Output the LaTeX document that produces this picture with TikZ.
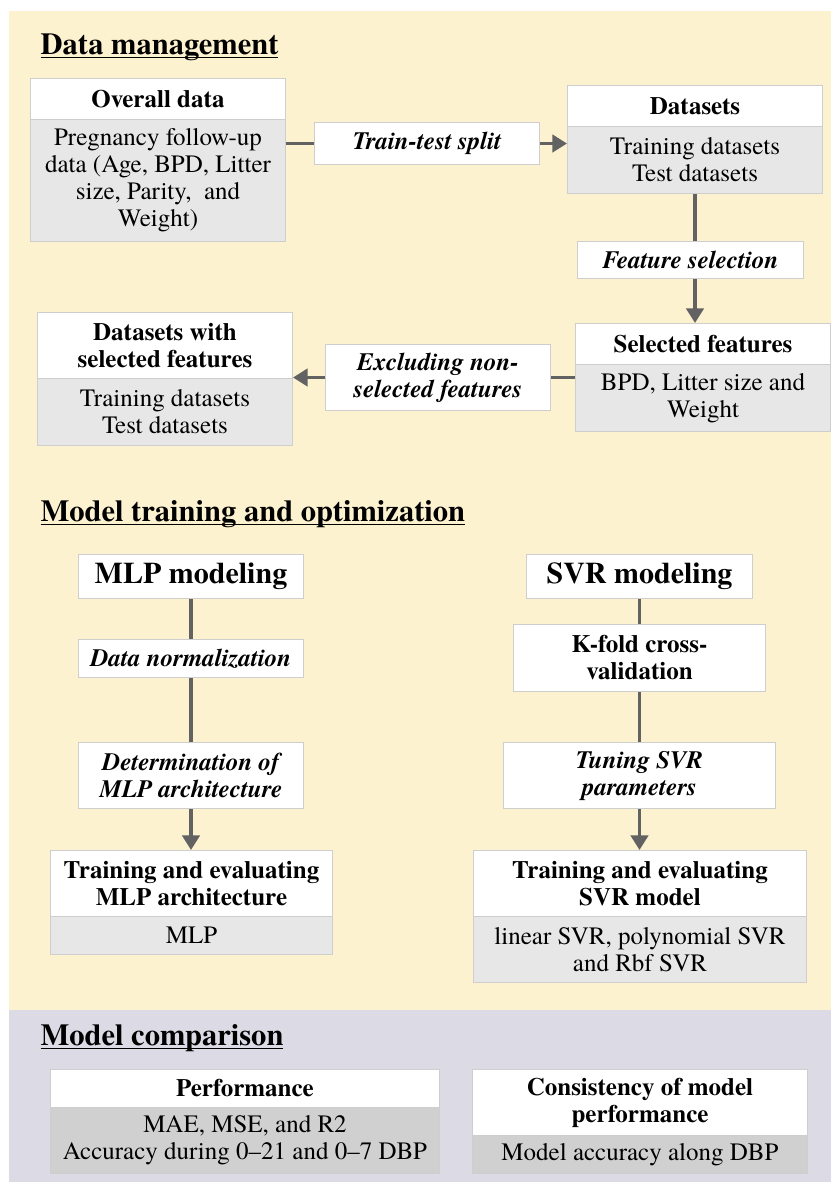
\documentclass[tikz,border=0pt]{standalone}
\usepackage{fontspec}
\setmainfont{TeX Gyre Termes}
\usetikzlibrary{arrows.meta}
\tikzset{every picture/.style={line width=0.75pt}}

\definecolor{panelyellow}{RGB}{252,242,208}
\definecolor{panelgray}{RGB}{220,218,229}
\definecolor{boxgray}{RGB}{231,231,231}
\definecolor{boxdark}{RGB}{208,208,208}
\definecolor{boxline}{RGB}{206,206,206}
\definecolor{flowgray}{RGB}{98,98,98}

\newcommand{\bodyfont}{\fontsize{18.75}{20.25}\selectfont}
\newcommand{\titlefont}{\fontsize{22.9}{27}\selectfont\bfseries}
\newcommand{\ulhead}[1]{\setbox0\hbox{#1}\rlap{\rule[-3pt]{\wd0}{1.1pt}}\box0}

\tikzset{
  sectitle/.style={anchor=base west, inner sep=0pt, font=\titlefont},
  hdr/.style={draw=boxline, fill=white, anchor=north west, inner sep=0pt, align=center, font=\bodyfont\bfseries},
  bdy/.style={draw=boxline, fill=boxgray, anchor=north west, inner sep=0pt, align=center, font=\bodyfont},
  bdydark/.style={bdy, fill=boxdark},
  stepbox/.style={hdr, font=\bodyfont\bfseries\itshape},
  bigbox/.style={hdr, font=\fontsize{22.5}{27}\selectfont\bfseries},
  flow/.style={draw=flowgray, line width=2.6pt},
  flowarrow/.style={flow, -{Triangle[width=13pt,length=11pt]}}
}

\begin{document}
\begin{tikzpicture}[x=0.75pt,y=0.75pt,yscale=-1,xscale=1]
\useasboundingbox (0,0) rectangle (831,1182);

%Shape: Rectangle [panels]
\fill [panelyellow] (9,11) rectangle (831,1010);
\fill [panelgray] (9,1010) rectangle (831,1182);

% Text Node
\node (tdata) [sectitle] at (40,54) {\ulhead{Data management}};

%Shape: Box [overall data]
\node (ovhead) [hdr, minimum width=191.25pt, minimum height=30.75pt] at (30,78) {Overall data};
\node (ovbody) [bdy, minimum width=191.25pt, minimum height=91.5pt] at (30,119) {Pregnancy follow-up\\data (Age, BPD, Litter\\size, Parity,~ and\\Weight)};
%Shape: Box [train-test split]
\node (split) [stepbox, minimum width=168.75pt, minimum height=31.5pt] at (314,122) {Train-test split};
%Shape: Box [datasets]
\node (dshead) [hdr, minimum width=191.25pt, minimum height=30.75pt] at (567,85) {Datasets};
\node (dsbody) [bdy, minimum width=191.25pt, minimum height=50.25pt] at (567,126) {Training datasets\\Test datasets};
%Shape: Box [feature selection]
\node (featsel) [stepbox, minimum width=169.5pt, minimum height=27.75pt] at (577,241) {Feature selection};
%Shape: Box [selected features]
\node (selhead) [hdr, minimum width=191.25pt, minimum height=30.75pt] at (575,323) {Selected features};
\node (selbody) [bdy, minimum width=191.25pt, minimum height=50.25pt] at (575,364) {BPD, Litter size and\\Weight};
%Shape: Box [excluding]
\node (exclude) [stepbox, minimum width=168.75pt, minimum height=49.5pt] at (325,344) {Excluding non-\\selected features};
%Shape: Box [datasets with selected features]
\node (wshead) [hdr, minimum width=191.25pt, minimum height=49.5pt] at (37,312) {Datasets with\\selected features};
\node (wsbody) [bdy, minimum width=191.25pt, minimum height=50.25pt] at (37,378) {Training datasets\\Test datasets};

%Straight Lines [data management]
\draw [flow] (ovbody.east |- split.west) -- (split.west);
\draw [flowarrow] (split.east) -- (split.east -| dsbody.west);
\draw [flow] (dsbody.south) -- (dsbody.south |- featsel.north);
\draw [flowarrow] (dsbody.south |- featsel.south) -- (dsbody.south |- selhead.north);
\draw [flow] (selbody.west |- exclude.east) -- (exclude.east);
\draw [flowarrow] (exclude.west) -- (exclude.west -| wsbody.east);

% Text Node
\node (tmodel) [sectitle] at (40,521) {\ulhead{Model training and optimization}};

%Shape: Box [MLP branch]
\node (mlp) [bigbox, minimum width=168.75pt, minimum height=33pt] at (78,554) {MLP modeling};
\node (norm) [stepbox, minimum width=168.75pt, minimum height=28.5pt] at (78,639) {Data normalization};
\node (archi) [stepbox, minimum width=168.75pt, minimum height=49.5pt] at (78,742) {Determination of\\MLP architecture};
\node (mlphead) [hdr, minimum width=211.5pt, minimum height=49.5pt] at (50,850) {Training and evaluating\\MLP architecture};
\node (mlpbody) [bdy, minimum width=211.5pt, minimum height=28.5pt] at (50,916) {MLP};

%Shape: Box [SVR branch]
\node (svr) [bigbox, minimum width=169.5pt, minimum height=33pt] at (526,554) {SVR modeling};
\node (kfold) [hdr, minimum width=189pt, minimum height=50.25pt] at (513,624) {K-fold cross-\\validation};
\node (tuning) [stepbox, minimum width=204pt, minimum height=49.5pt] at (503,742) {Tuning SVR\\parameters};
\node (svrhead) [hdr, minimum width=249.75pt, minimum height=49.5pt] at (473,850) {Training and evaluating\\SVR model};
\node (svrbody) [bdy, minimum width=249.75pt, minimum height=49.5pt] at (473,916) {linear SVR, polynomial SVR\\and Rbf SVR};

%Straight Lines [model training]
\draw [flow] (mlp.south) -- (norm.north);
\draw [flow] (norm.south) -- (archi.north);
\draw [flowarrow] (archi.south) -- (archi.south |- mlphead.north);
\draw [flow] (svr.south) -- (kfold.north);
\draw [flow] (kfold.south) -- (tuning.north);
\draw [flowarrow] (tuning.south) -- (tuning.south |- svrhead.north);

% Text Node
\node (tcomp) [sectitle] at (40,1045) {\ulhead{Model comparison}};

%Shape: Box [comparison]
\node (perfhead) [hdr, minimum width=291.75pt, minimum height=28.5pt] at (50,1069) {Performance};
\node (perfbody) [bdydark, minimum width=291.75pt, minimum height=49.5pt] at (50,1107) {MAE, MSE, and R2\\Accuracy during 0–21 and 0–7 DBP};
\node (conshead) [hdr, minimum width=251.25pt, minimum height=49.5pt] at (472,1069) {Consistency of model\\performance};
\node (consbody) [bdydark, minimum width=251.25pt, minimum height=28.5pt] at (472,1135) {Model accuracy along DBP};

\end{tikzpicture}
\end{document}
